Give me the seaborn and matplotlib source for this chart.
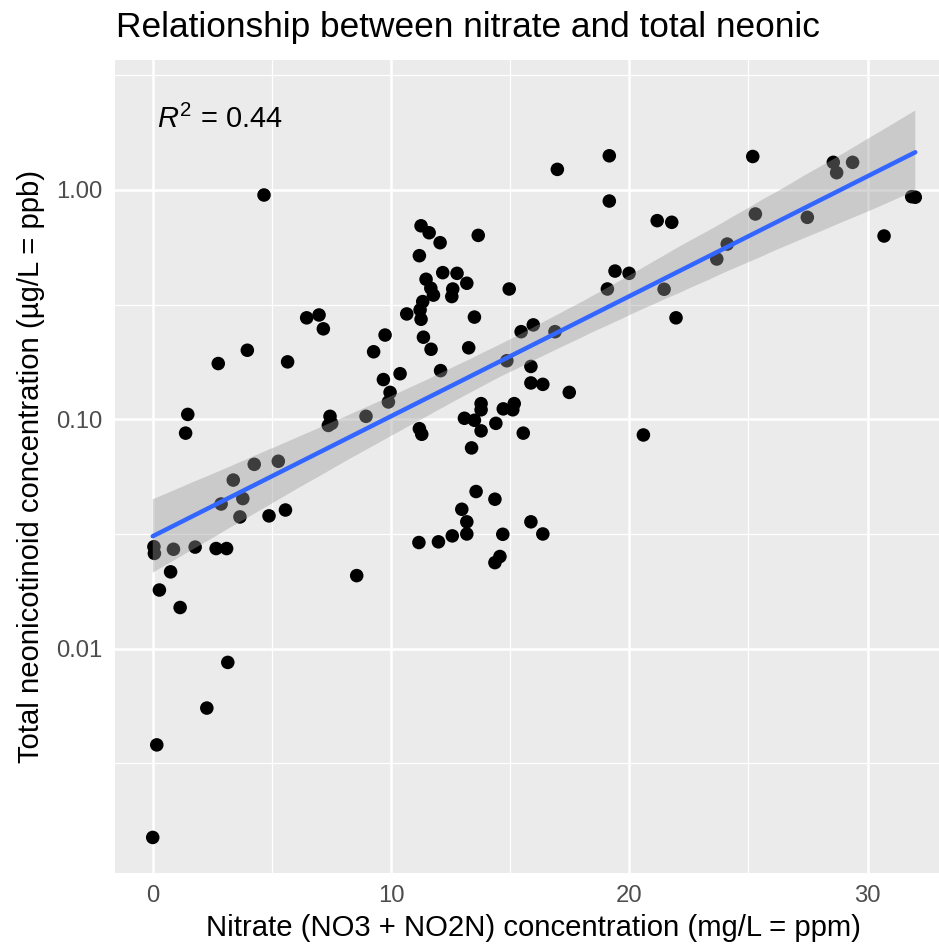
import numpy as np
import pandas as pd
import matplotlib
matplotlib.use("Agg")
import matplotlib.pyplot as plt
import seaborn as sns

# ---- data ----
nitrate = [
    0.00, 0.17, 2.27, 3.15, 1.15, 0.28, 0.75, 0.05, 0.07, 0.87, 1.78, 2.66, 3.10,
    6.46, 6.98, 7.16, 3.97, 2.75, 5.66, 1.47, 1.38, 7.44, 7.51, 7.37, 8.95,
    4.26, 5.27, 3.38, 2.87, 3.78, 3.66, 4.88, 5.57, 4.67,
    11.26, 11.60, 13.66, 12.06, 11.19, 12.17, 12.77, 11.47, 13.18, 12.59, 12.55,
    11.67, 11.78, 14.96, 11.33, 11.22, 11.26, 10.66, 13.50, 11.36, 11.68, 13.26,
    9.75, 9.27, 10.38, 9.68, 9.96, 9.89, 12.08, 14.86, 15.46,
    13.78, 13.78, 14.71, 15.17, 15.11, 13.08, 13.50, 13.78, 14.40, 13.38,
    11.19, 11.29, 15.55,
    19.16, 16.98, 25.18, 28.56, 29.37, 28.70, 31.85, 32.00, 19.16, 30.69,
    21.17, 21.78, 25.29, 27.47, 23.67, 24.11, 19.40, 19.99, 19.08, 21.46, 21.96,
    15.97, 16.88, 15.87, 15.87, 16.37, 17.48, 20.59, 8.56,
    13.57, 14.36, 12.97, 13.18, 15.87, 16.37, 14.69, 13.18, 12.57, 11.99, 11.17,
    14.36, 14.57,
]
neonic = [
    0.0015, 0.0038, 0.0055, 0.0087, 0.0151, 0.0180, 0.0216, 0.0278, 0.0260, 0.0271, 0.0277, 0.0273, 0.0273,
    0.277, 0.285, 0.248, 0.200, 0.175, 0.178, 0.105, 0.087, 0.103, 0.096, 0.094, 0.103,
    0.0636, 0.0656, 0.0543, 0.0427, 0.0451, 0.0375, 0.0379, 0.0402, 0.951,
    0.698, 0.651, 0.634, 0.589, 0.517, 0.436, 0.433, 0.408, 0.392, 0.370, 0.343,
    0.373, 0.348, 0.370, 0.326, 0.300, 0.273, 0.288, 0.279, 0.228, 0.202, 0.205,
    0.233, 0.197, 0.158, 0.149, 0.131, 0.119, 0.163, 0.180, 0.241,
    0.117, 0.110, 0.111, 0.117, 0.110, 0.101, 0.099, 0.089, 0.096, 0.075,
    0.091, 0.086, 0.087,
    1.41, 1.23, 1.40, 1.32, 1.32, 1.19, 0.935, 0.930, 0.895, 0.630,
    0.735, 0.723, 0.786, 0.760, 0.500, 0.581, 0.443, 0.433, 0.370, 0.369, 0.277,
    0.258, 0.241, 0.170, 0.144, 0.142, 0.131, 0.0854, 0.0208,
    0.0484, 0.0448, 0.0405, 0.0357, 0.0357, 0.0316, 0.0315, 0.0316, 0.0310, 0.0292, 0.0290,
    0.0237, 0.0252,
]
y_breaks = [0.01, 0.10, 1.00]
y_break_labels = ["0.01", "0.10", "1.00"]
x_breaks = [0, 10, 20, 30]
r2_label = r"$R^2$ = 0.44"

title = "Relationship between nitrate and total neonic"
xlabel = "Nitrate (NO3 + NO2N) concentration (mg/L = ppm)"
ylabel = "Total neonicotinoid concentration (µg/L = ppb)"

df = pd.DataFrame({"nitrate": nitrate, "log_neonic": np.log10(neonic)})

# ---- style ----
sns.set_style("white")
plt.rcParams["font.family"] = ["Liberation Sans", "DejaVu Sans"]
plt.rcParams["mathtext.fontset"] = "custom"
plt.rcParams["mathtext.rm"] = "Liberation Sans"
plt.rcParams["mathtext.it"] = "Liberation Sans:italic"

W, H = 939, 946
fig = plt.figure(figsize=(W / 100, H / 100), dpi=100)
fig.patch.set_facecolor("white")
left, right, top, bottom = 114.6, 953.4, 60, 873
ax = fig.add_axes([left / W, 1 - bottom / H, (right - left) / W, (bottom - top) / H])
ax.set_facecolor("#EBEBEB")

# points
sns.scatterplot(data=df, x="nitrate", y="log_neonic", color="black", s=95,
                edgecolor="none", linewidth=0, legend=False, ax=ax, zorder=2)

# confidence ribbon (grey, drawn over points like ggplot)
n_before = len(ax.collections)
sns.regplot(data=df, x="nitrate", y="log_neonic", scatter=False, ci=95,
            n_boot=2000, seed=1, color="#999999",
            line_kws={"linewidth": 0}, ax=ax)
for coll in ax.collections[n_before:]:
    coll.set_facecolor("#999999")
    coll.set_alpha(0.4)
    coll.set_edgecolor("none")
    coll.set_zorder(3)

# fitted line
sns.regplot(data=df, x="nitrate", y="log_neonic", scatter=False, ci=None,
            color="#3366FF", line_kws={"linewidth": 3.2, "zorder": 4}, ax=ax)

ax.set_xlim(-1.6, 33.6)
ax.set_ylim(-2.979, 0.567)

log_breaks = np.log10(y_breaks)
ax.set_yticks(log_breaks)
ax.set_yticklabels(y_break_labels)
ax.set_yticks([-2.5, -1.5, -0.5, 0.5], minor=True)
ax.set_xticks(x_breaks)
ax.set_xticklabels([str(v) for v in x_breaks])
ax.set_xticks([5, 15, 25], minor=True)

ax.set_axisbelow(True)
ax.grid(which="major", color="white", linewidth=1.8)
ax.grid(which="minor", color="white", linewidth=0.9)
for s in ax.spines.values():
    s.set_visible(False)

ax.tick_params(which="major", length=5, width=1.1, color="#333333",
               labelsize=17.2, labelcolor="#4D4D4D", pad=3.5)
ax.tick_params(which="minor", length=0)

ax.set_xlabel(xlabel, fontsize=21.1, color="black", labelpad=5)
ax.set_ylabel(ylabel, fontsize=21.1, color="black", labelpad=8.5)

ax.text(0.17, 0.269, r2_label, fontsize=21, color="black",
        ha="left", va="baseline", zorder=5)

fig.text(116 / W, 1 - 37 / H, title, fontsize=25.4, color="black",
         ha="left", va="baseline")

fig.savefig("out.png", dpi=100)
